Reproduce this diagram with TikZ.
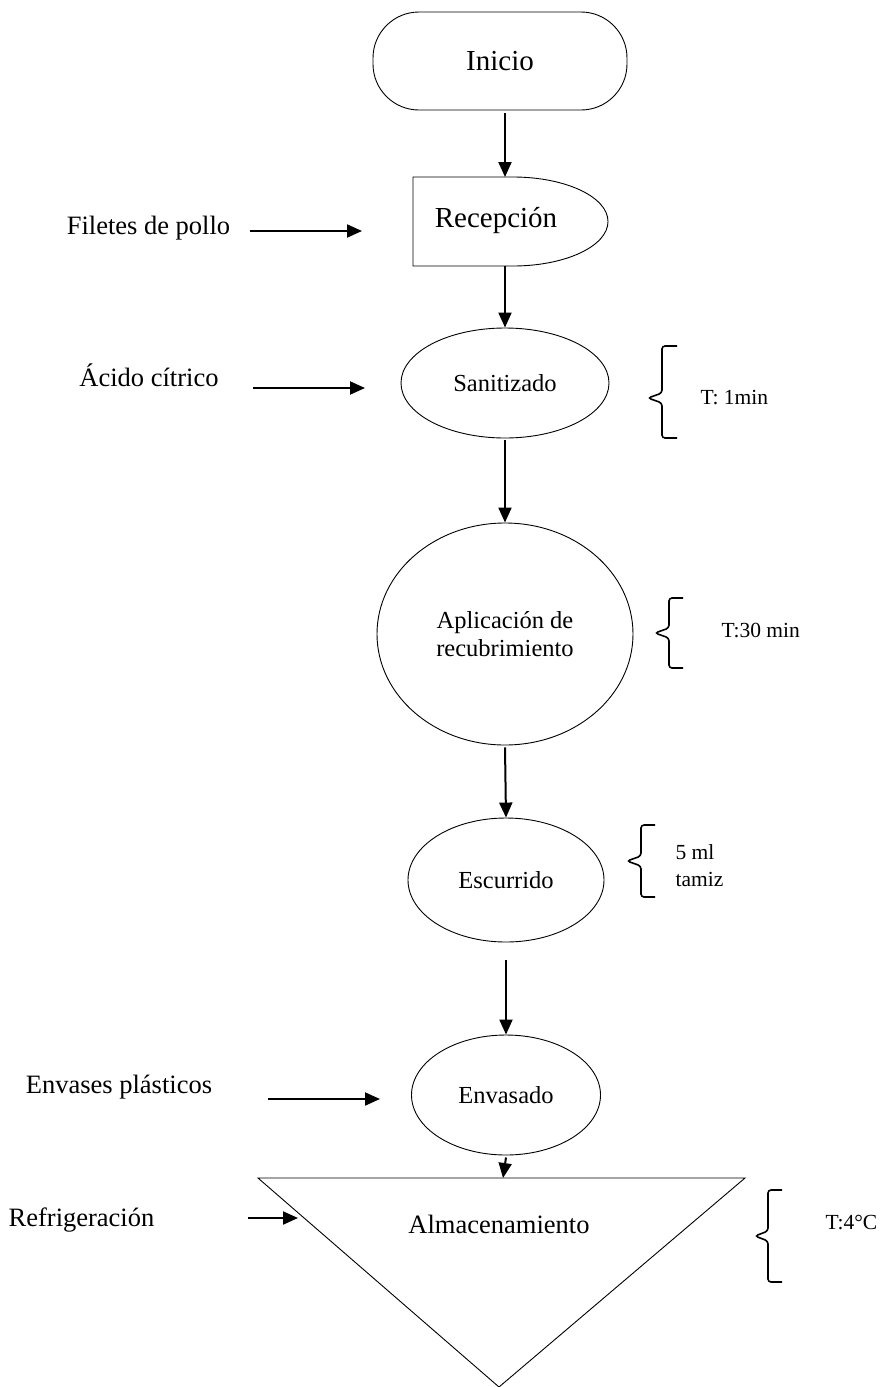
\documentclass[tikz,border=0pt]{standalone}
\usepackage{fontspec}
\setmainfont{Liberation Serif}
\usetikzlibrary{shapes.geometric,arrows.meta}
\begin{document}
\begin{tikzpicture}[x=1pt,y=-1pt,
  shp/.style={draw,line width=0.9pt},
  oval/.style={shp,ellipse,inner sep=0pt},
  huge/.style={font=\fontsize{29}{32}\selectfont},
  big/.style={font=\fontsize{26.5}{30}\selectfont},
  mid/.style={font=\fontsize{24.5}{28}\selectfont},
  small/.style={font=\fontsize{21.5}{27}\selectfont},
  arr/.style={line width=2pt,-{Triangle[length=15pt,width=13pt]}},
  bracestyle/.style={line width=1.6pt,rounded corners=3pt}]
\useasboundingbox (0,0) rectangle (883,1387);

% main flow
\node[shp,rounded corners=46pt,minimum width=254pt,minimum height=98pt,huge] (inicio) at (500,61) {Inicio};

\draw[shp] (413,177) -- (513,177) arc[start angle=90,end angle=-90,x radius=95pt,y radius=44.5pt] -- (413,266) -- cycle;
\node[huge] (recep) at (496,221) {Recepción};
\coordinate (recepT) at (505,177);
\coordinate (recepB) at (505,266);

\node[oval,minimum width=208pt,minimum height=110pt,mid] (sanit) at (505,383) {Sanitizado};
\node[oval,minimum width=256pt,minimum height=222pt,mid,align=center] (aplic) at (505,634) {Aplicación de\\recubrimiento};
\node[oval,minimum width=196pt,minimum height=124pt,mid] (escur) at (506,880) {Escurrido};
\node[oval,minimum width=189pt,minimum height=120pt,mid] (envas) at (506,1095) {Envasado};

\draw[shp] (258,1178) -- (745,1178) -- (499,1387) -- cycle;
\node[big] (alm) at (499,1224) {Almacenamiento};
\coordinate (almT) at (503,1178);

% arrows of the main flow
\draw[arr] ([yshift=-3pt]inicio.south -| recepT) -- (recepT);
\draw[arr] (recepB) -- (sanit.north);
\draw[arr] ([yshift=-2pt]sanit.south) -- (aplic.north);
\draw[arr] ([yshift=-2pt]aplic.south) -- (escur.north);
\draw[arr] ([yshift=-18pt]escur.south) -- (envas.north);
\draw[arr] ([yshift=-2pt]envas.south) -- (almT);

% inputs
\node[big] (filetes) at (148.5,228) {Filetes de pollo};
\coordinate (filS) at (250,231); \coordinate (filE) at (362,231);
\draw[arr] (filS) -- (filE);

\node[big] (acido) at (149,375) {Ácido cítrico};
\coordinate (acS) at (253,388); \coordinate (acE) at (365,388);
\draw[arr] (acS) -- (acE);

\node[big] (envases) at (119,1087) {Envases plásticos};
\coordinate (enS) at (268,1099); \coordinate (enE) at (380,1099);
\draw[arr] (enS) -- (enE);

\node[big] (refri) at (81.5,1220) {Refrigeración};
\coordinate (reS) at (248,1218); \coordinate (reE) at (298,1218);
\draw[arr] (reS) -- (reE);

% braces and parameters
\draw[bracestyle] (677,346) -- (662,346) -- (662,393) -- (648,398) -- (662,403) -- (662,438) -- (677,438);
\node[small,anchor=west] (t1) at (697,398) {T: 1min};

\draw[bracestyle] (683,598) -- (669,598) -- (669,628) -- (655,633) -- (669,638) -- (669,668) -- (683,668);
\node[small,anchor=west] (t2) at (718,630) {T:30 min};

\draw[bracestyle] (655,825) -- (641,825) -- (641,856) -- (627,861) -- (641,866) -- (641,897) -- (655,897);
\node[small,anchor=west,align=left] (t3) at (672,866) {5 ml\\tamiz};

\draw[bracestyle] (782,1190) -- (768,1190) -- (768,1231) -- (755,1236) -- (768,1241) -- (768,1282) -- (782,1282);
\node[small,anchor=west] (t4) at (822,1222) {T:4°C};
\end{tikzpicture}
\end{document}
